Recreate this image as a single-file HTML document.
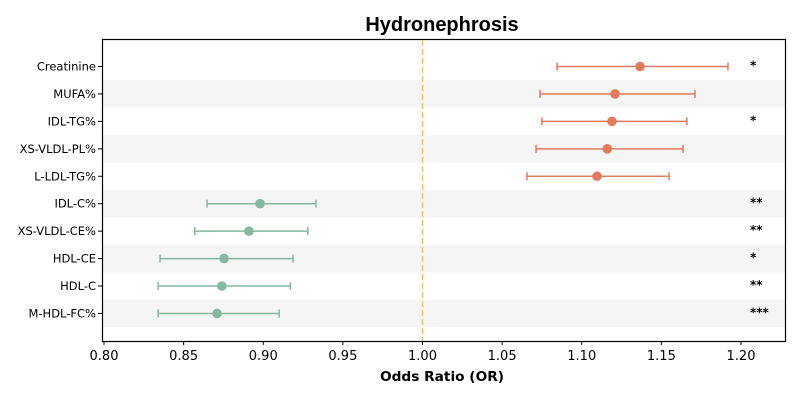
<!DOCTYPE html>
<html><head><meta charset="utf-8"><style>body{margin:0;background:#fff}svg{display:block;font-family:"DejaVu Sans","Liberation Sans",sans-serif}</style></head>
<body>
<svg id="chart" width="800" height="400" viewBox="0 0 800 400">
<text x="442" y="31" text-anchor="middle" font-size="20" font-weight="bold" font-family="Liberation Sans, sans-serif">Hydronephrosis</text>
<g id="bands"></g><g id="marks"></g><g id="axes"></g>
<rect x="102.5" y="39.5" width="683" height="302" fill="none" stroke="#000" stroke-width="1.2"/>
<text x="442" y="381" text-anchor="middle" font-size="13.7" font-weight="bold">Odds Ratio (OR)</text>
</svg>
<script>
const categories=["Creatinine","MUFA%","IDL-TG%","XS-VLDL-PL%","L-LDL-TG%","IDL-C%","XS-VLDL-CE%","HDL-CE","HDL-C","M-HDL-FC%"];
const orValues=[1.1366,1.1209,1.119,1.116,1.1096,0.898,0.891,0.8754,0.874,0.871];
const lowerCI=[1.0845,1.0738,1.075,1.0713,1.0656,0.8647,0.857,0.8352,0.834,0.834];
const upperCI=[1.1918,1.1711,1.166,1.1636,1.1548,0.9331,0.928,0.9187,0.917,0.910];
const stars=["*","","*","","","**","**","*","**","***"];
const xTicks=[0.80,0.85,0.90,0.95,1.00,1.05,1.10,1.15,1.20];
const NS="http://www.w3.org/2000/svg";
const xs=v=>104+(v-0.8)*1592.5;
const ys=i=>66.5+i*27.44;
function mk(t,a,p){const e=document.createElementNS(NS,t);for(const k in a)e.setAttribute(k,a[k]);p.appendChild(e);return e;}
const bands=document.getElementById('bands'),marks=document.getElementById('marks'),axes=document.getElementById('axes');
categories.forEach((c,i)=>{
  const y=ys(i);
  if(i%2===1){const b=mk('rect',{x:103,y:y-13.72,width:682,height:27.44,fill:'#f5f5f5'},bands);
    
    }
  const col=orValues[i]>1?'#e07b5c':'#84b8a0';
  const g=mk('g',{},marks);
  
  
  mk('line',{x1:xs(lowerCI[i]),x2:xs(lowerCI[i]),y1:y-4,y2:y+4,stroke:col,'stroke-width':1.5},g);
  mk('line',{x1:xs(lowerCI[i]),x2:xs(upperCI[i]),y1:y,y2:y,stroke:col,'stroke-width':1.5},g);
  mk('line',{x1:xs(upperCI[i]),x2:xs(upperCI[i]),y1:y-4,y2:y+4,stroke:col,'stroke-width':1.5},g);
  mk('circle',{cx:xs(orValues[i]),cy:y,r:4.8,fill:col},g);
  const l=mk('text',{x:96,y:y+4,'text-anchor':'end','font-size':11.5},axes);l.textContent=c;
  
  
  mk('line',{x1:98,x2:102,y1:y,y2:y,stroke:'#000'},axes);
  if(stars[i]){const s=mk('text',{x:750,y:y+3,'font-size':12,'font-weight':'bold'},axes);s.textContent=stars[i];
    
    }
});
const ref=mk('line',{x1:xs(1),x2:xs(1),y1:40,y2:341,stroke:'#f0c070','stroke-width':1.5,'stroke-dasharray':'6,3'},marks);


xTicks.forEach(t=>{
  mk('line',{x1:xs(t),x2:xs(t),y1:341,y2:345,stroke:'#000'},axes);
  const l=mk('text',{x:xs(t),y:360,'text-anchor':'middle','font-size':13},axes);l.textContent=t.toFixed(2);
  
  
});
</script>
</body></html>
